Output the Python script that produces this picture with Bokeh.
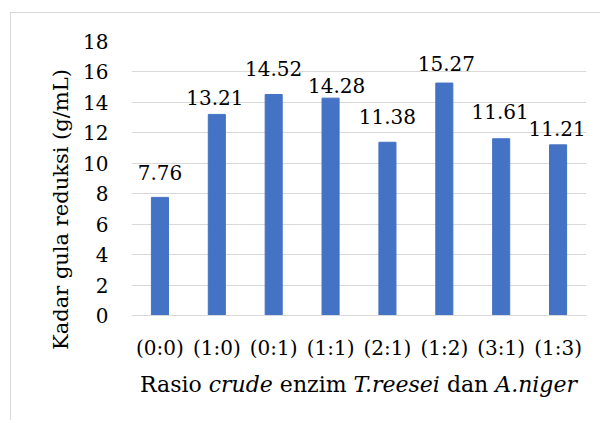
from bokeh.plotting import figure
from bokeh.models import FactorRange, Range1d, FixedTicker, Div
from bokeh.layouts import column, row
from bokeh.core.properties import value
from bokeh.embed import file_html
from bokeh.resources import INLINE

categories = ["(0:0)", "(1:0)", "(0:1)", "(1:1)", "(2:1)", "(1:2)", "(3:1)", "(1:3)"]
values = [7.76, 13.21, 14.52, 14.28, 11.38, 15.27, 11.61, 11.21]
value_labels = ["7.76", "13.21", "14.52", "14.28", "11.38", "15.27", "11.61", "11.21"]
y_ticks = [0, 2, 4, 6, 8, 10, 12, 14, 16, 18]
y_title = "Kadar gula reduksi (g/mL)"
x_title_html = "Rasio <i>crude</i> enzim <i>T.reesei</i> dan <i>A.niger</i>"

# label placement (screen pixels), styling only
label_dx = [0, -2, 0, 6, 0, 2, -1, -1]
label_gap = [25, 17, 26, 13, 26, 20, 27, 16]

FONT = "DejaVu Serif"
GRID = "#d9d9d9"
OX, OY = 11, 13                      # page offset of the content
YT_LEFT, YT_W, YT_TOP = 48, 26, 34   # page x / width / top margin of the y title box
FX = YT_LEFT + YT_W                  # page x of the figure
FL, FT, FR, FB = 131, 41, 586, 315   # frame edges (page px)
W, H = 600 - FX, 359

p = figure(
    width=W, height=H,
    x_range=FactorRange(*categories, range_padding=0),
    y_range=Range1d(0, 18),
    output_backend="svg", toolbar_location=None,
    min_border_left=FL - FX, min_border_right=W - (FR - FX),
    min_border_top=FT - OY, min_border_bottom=H - (FB - OY),
)
p.outline_line_color = None
p.background_fill_color = "white"
p.border_fill_color = "white"

p.vbar(x=categories, top=values, width=0.3, color="#4472C4")

p.text(x=categories, y=values, text=value_labels,
       x_offset=label_dx, y_offset=[-g for g in label_gap],
       text_align="center", text_baseline="alphabetic",
       text_font=value(FONT), text_font_size="20px", text_color="black")

p.xgrid.grid_line_color = None
p.ygrid.grid_line_color = GRID
p.ygrid.grid_line_width = 1

p.yaxis.ticker = FixedTicker(ticks=y_ticks)
for ax in (p.xaxis, p.yaxis):
    ax.major_tick_line_color = None
    ax.minor_tick_line_color = None
    ax.major_label_text_font = FONT
    ax.major_label_text_font_size = "20px"
    ax.major_label_text_color = "black"
p.yaxis.axis_line_color = None
p.xaxis.axis_line_color = GRID
p.yaxis.major_label_standoff = 17
p.xaxis.major_label_standoff = 14

ytitle = Div(text=y_title, width=YT_W, height=H - YT_TOP,
             margin=(YT_TOP, 0, 0, YT_LEFT - OX),
             styles={"font-family": FONT, "font-size": "21px", "color": "black",
                     "line-height": f"{YT_W}px", "text-align": "center",
                     "white-space": "nowrap", "writing-mode": "vertical-rl",
                     "transform": "rotate(180deg)"})

xtitle = Div(text=x_title_html, width=FR - FL, height=48,
             margin=(0, 0, 0, FL - OX),
             styles={"font-family": FONT, "font-size": "22px", "color": "black",
                     "line-height": "26px", "text-align": "center",
                     "white-space": "nowrap"})

layout = column(row(ytitle, p, spacing=0), xtitle, margin=(OY - 1, 0, 0, OX - 1), spacing=0,
                styles={"border-top": f"1px solid {GRID}", "border-left": f"1px solid {GRID}",
                        "background-color": "white"})

open("out.html", "w").write(file_html(layout, INLINE))
